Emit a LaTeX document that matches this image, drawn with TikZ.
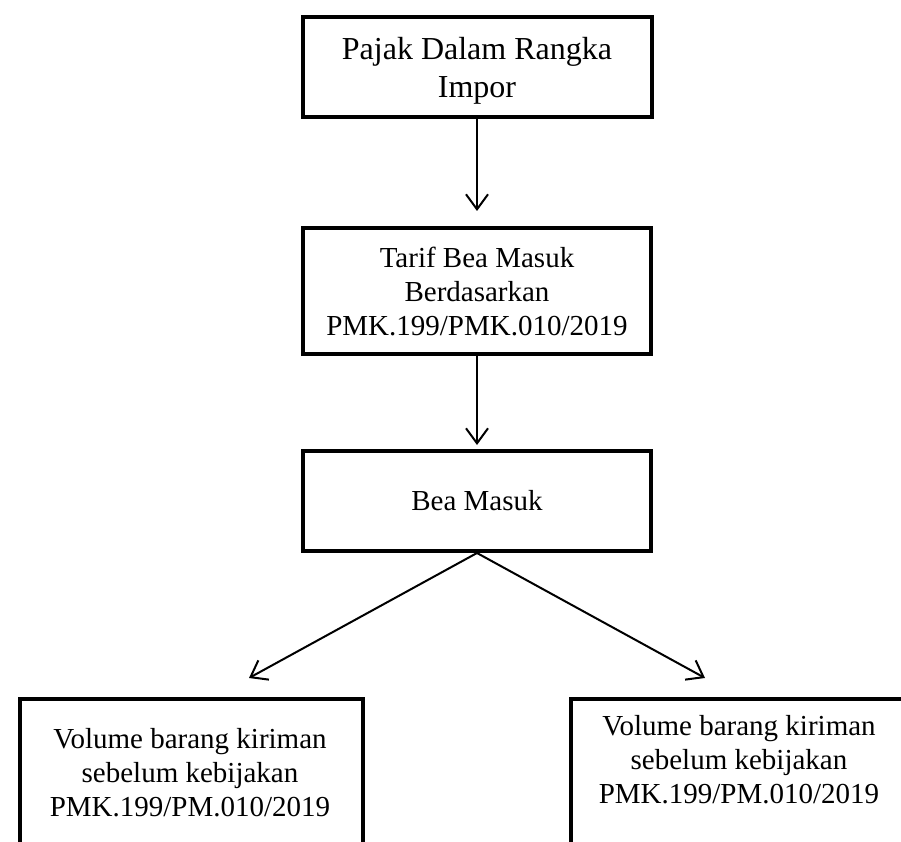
\documentclass[tikz,border=0pt]{standalone}
\usepackage{fontspec}
\setmainfont{Liberation Serif}
\usetikzlibrary{arrows.meta}
\begin{document}
\begin{tikzpicture}[x=1pt,y=-1pt,
  box/.style={draw, line width=4pt, rectangle, inner sep=0pt, align=center, font=\fontsize{29}{34}\selectfont},
  arr/.style={line width=2pt, -{Straight Barb[length=15pt,width=22pt]}},
  lbl/.style={inner sep=0pt, align=center, font=\fontsize{29}{34}\selectfont}]
\useasboundingbox (0,0) rectangle (901,842);
\clip (0,0) rectangle (901,842);
\node[box, minimum width=349, minimum height=100, font=\fontsize{32}{38}\selectfont] (b1) at (477,67) {\rule{0pt}{30pt}Pajak Dalam Rangka\\Impor};
\node[box, minimum width=348, minimum height=126] (b2) at (477,291) {Tarif Bea Masuk\\Berdasarkan\\PMK.199/PMK.010/2019};
\node[box, minimum width=348, minimum height=100] (b3) at (477,501) {Bea Masuk};
\node[box, minimum width=343, minimum height=220, anchor=north west] (b4) at (18,697) {};
\node[box, minimum width=343, minimum height=220, anchor=north west] (b5) at (569,697) {};
\node[lbl, anchor=north] (t4) at (190,728) {Volume barang kiriman\\sebelum kebijakan\\PMK.199/PM.010/2019};
\node[lbl, anchor=north] (t5) at (739,715.5) {Volume barang kiriman\\sebelum kebijakan\\PMK.199/PM.010/2019};
\coordinate (e4) at (249,678);
\coordinate (e5) at (705,678);
\draw[arr, shorten >=15pt] (b1) -- (b2);
\draw[arr, shorten >=4pt] (b2) -- (b3);
\draw[arr] (b3.south) -- (e4);
\draw[arr] (b3.south) -- (e5);
\end{tikzpicture}
\end{document}
